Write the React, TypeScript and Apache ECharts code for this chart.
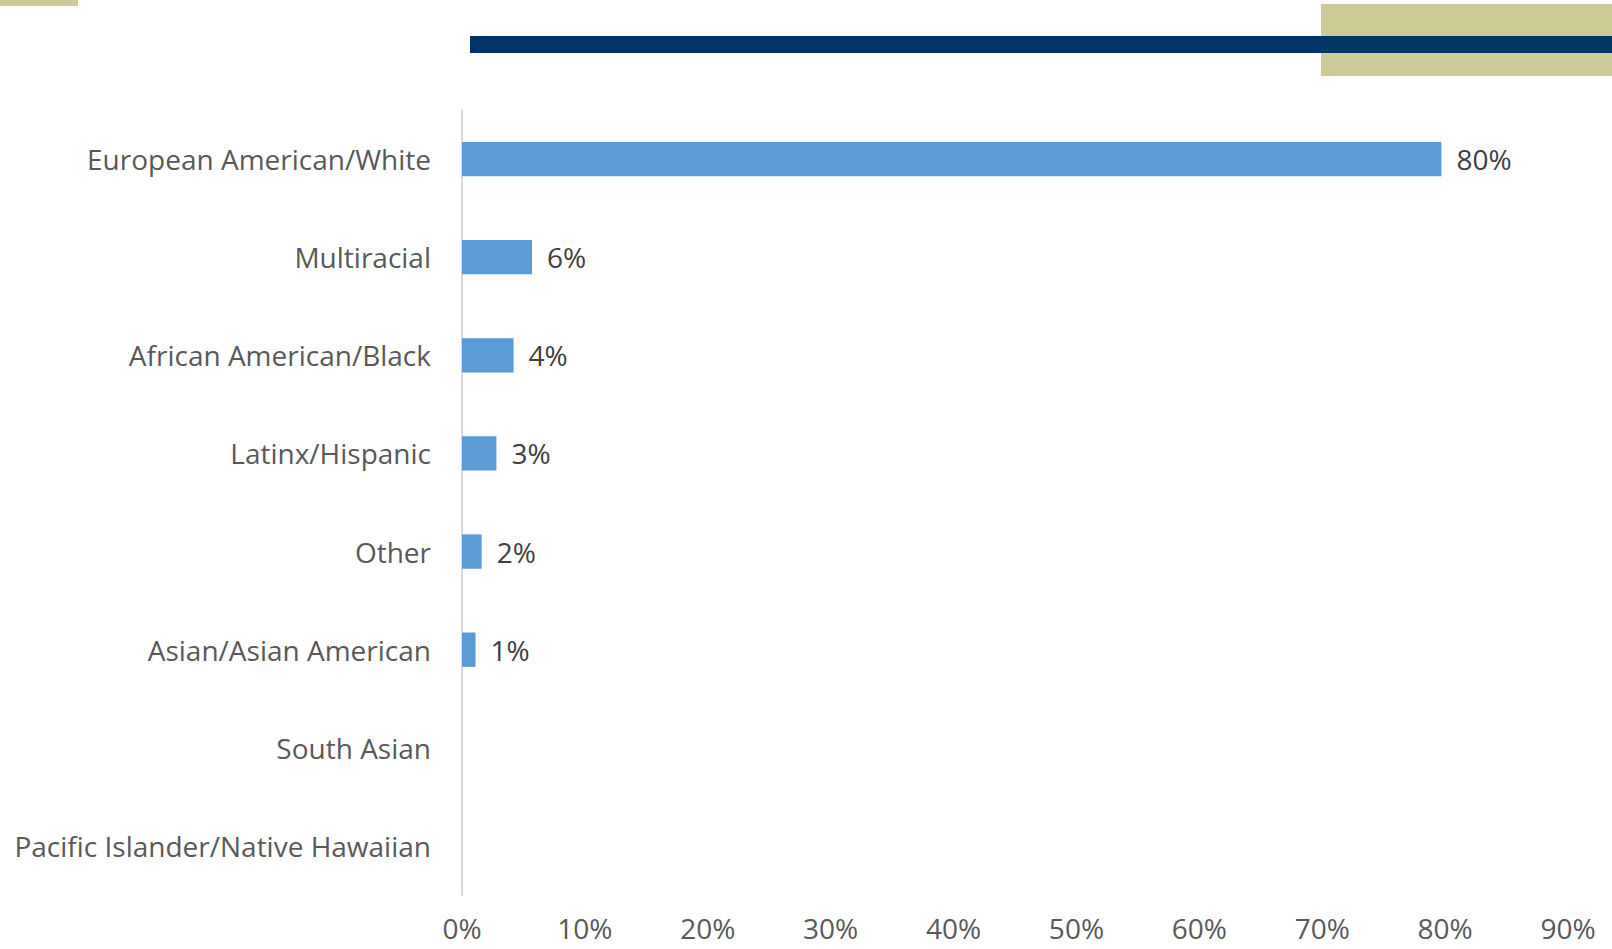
import React, { useEffect, useRef } from "react";
import * as echarts from "echarts";

const categories = [
  "European American/White",
  "Multiracial",
  "African American/Black",
  "Latinx/Hispanic",
  "Other",
  "Asian/Asian American",
  "South Asian",
  "Pacific Islander/Native Hawaiian",
];
const values = [79.7, 5.7, 4.2, 2.8, 1.6, 1.1, 0, 0];
const axisMin = 0;
const axisMax = 90;
const axisStep = 10;

const FONT = "Open Sans";

export default function App() {
  const ref = useRef<HTMLDivElement>(null);
  useEffect(() => {
    if (!ref.current) return;
    const chart = echarts.init(ref.current, undefined, { renderer: "svg" });
    chart.setOption({
      animation: false,
      backgroundColor: "#ffffff",
      grid: { left: 462, right: 44, top: 110, bottom: 54, containLabel: false },
      xAxis: {
        type: "value",
        min: axisMin,
        max: axisMax,
        interval: axisStep,
        axisLine: { show: false },
        axisTick: { show: false },
        splitLine: { show: false },
        axisLabel: {
          formatter: "{value}%",
          color: "#595959",
          fontFamily: FONT,
          fontSize: 28,
          lineHeight: 26,
          margin: 20,
        },
      },
      yAxis: {
        type: "category",
        data: categories,
        inverse: true,
        axisLine: { show: true, lineStyle: { color: "#d9d9d9", width: 2 } },
        axisTick: { show: false },
        axisLabel: {
          color: "#595959",
          fontFamily: FONT,
          fontSize: 28,
          margin: 31,
        },
      },
      series: [
        {
          type: "bar",
          data: values,
          barCategoryGap: "65%",
          itemStyle: { color: "#5B9BD5" },
          label: {
            show: true,
            position: "right",
            distance: 15,
            color: "#404040",
            fontFamily: FONT,
            fontSize: 28,
            formatter: (p: any) => (p.value > 0 ? Math.round(p.value) + "%" : ""),
          },
        },
      ],
      graphic: [
        { type: "rect", shape: { x: 0, y: 0, width: 78, height: 6 }, style: { fill: "#CDCC98" } },
        { type: "rect", shape: { x: 1321, y: 4, width: 291, height: 72 }, style: { fill: "#CDCC98" } },
        { type: "rect", shape: { x: 470, y: 36, width: 1142, height: 17 }, style: { fill: "#003366" } },
      ],
    });
    return () => chart.dispose();
  }, []);
  return (
    <div
      ref={ref}
      style={{ position: "fixed", left: 0, top: 0, width: 1612, height: 949 }}
    />
  );
}
